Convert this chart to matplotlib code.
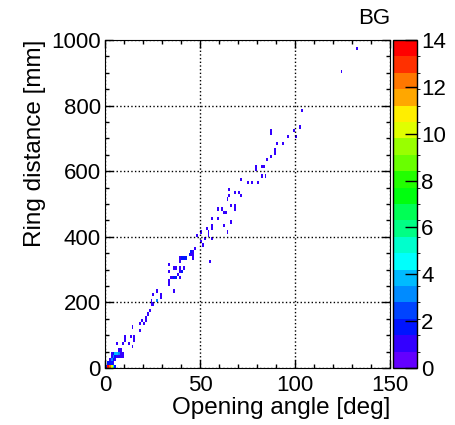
import colorsys
import numpy as np
import matplotlib
matplotlib.use("Agg")
import matplotlib.pyplot as plt
from matplotlib.colors import ListedColormap, BoundaryNorm

plt.rcParams['font.family'] = ['Liberation Sans', 'DejaVu Sans']

# filled bins: opening angle bin [deg], ring distance bin [mm], entries
angle = [132, 124, 103, 102, 99, 100, 96, 87, 87, 93, 90, 89, 89, 87, 85,
         79, 79, 82, 83, 82, 84, 80, 77, 75, 71, 65, 65, 68, 70, 71, 64,
         66, 68, 68, 59, 61, 62, 63, 56, 59, 56, 56, 62, 66, 64,
         54, 53, 50, 48, 54, 56, 52, 50, 51, 47,
         45, 46, 45, 44, 46, 46, 42, 41, 39, 40, 39, 55,
         33, 33, 36, 37, 39, 41, 39, 40, 38, 39, 37, 36, 35, 34, 33, 33,
         36, 27, 29, 29, 27, 25, 24, 24, 25, 23, 22,
         19, 21, 20, 18, 21, 18, 14, 10, 10, 13, 15, 14, 15, 9, 12, 6, 8, 7,
         3, 4, 5, 6, 7, 8, 9,
         3, 4, 5, 6, 7, 8, 9,
         2, 3, 4, 5, 2, 3, 4,
         0, 1, 2, 3, 4, 5, 1, 2]
dist = [970, 900, 780, 730, 720, 700, 700, 710, 720, 680, 680, 650, 660, 640, 630,
        600, 610, 610, 610, 580, 580, 560, 560, 560, 570, 540, 520, 530, 530, 520, 510,
        490, 480, 490, 480, 480, 470, 470, 450, 450, 420, 430, 430, 440, 410,
        410, 420, 410, 400, 400, 390, 390, 380, 370, 360,
        350, 350, 340, 340, 330, 340, 330, 330, 330, 330, 320, 320,
        310, 290, 300, 300, 300, 300, 290, 290, 280, 270, 270, 270, 270, 270, 260, 250,
        230, 230, 220, 210, 200, 220, 190, 200, 190, 170, 160,
        140, 140, 130, 130, 150, 110, 120, 90, 80, 90, 80, 60, 90, 70, 70, 70, 50, 50,
        40, 40, 40, 40, 40, 40, 40,
        30, 30, 30, 30, 30, 30, 30,
        20, 20, 20, 20, 10, 10, 10,
        0, 0, 0, 0, 0, 0, 10, 10]
entries = [1, 1, 1, 1, 1, 1, 1, 1, 1, 1, 1, 1, 1, 1, 1,
           1, 1, 1, 1, 1, 1, 1, 1, 1, 1, 1, 1, 1, 1, 1, 1,
           1, 1, 1, 1, 1, 1, 1, 1, 1, 1, 1, 1, 1, 1,
           1, 1, 1, 1, 1, 1, 1, 1, 1, 1,
           2, 1, 1, 2, 1, 1, 2, 2, 1, 2, 1, 1,
           1, 1, 1, 1, 1, 1, 1, 2, 1, 1, 2, 2, 1, 1, 1, 1,
           1, 1, 1, 1, 3, 1, 1, 1, 1, 1, 1,
           1, 1, 1, 1, 1, 1, 1, 1, 1, 1, 1, 1, 1, 1, 1, 1, 1, 1,
           1, 2, 4, 4, 3, 1, 1,
           1, 3, 2, 1, 1, 1, 1,
           1, 3, 2, 1, 1, 2, 1,
           2, 14, 12, 10, 5, 2, 2, 1]

xedges = np.arange(0, 151, 1)
yedges = np.arange(0, 1001, 10)
H = np.zeros((len(yedges) - 1, len(xedges) - 1))
for a, d, n in zip(angle, dist, entries):
    H[d // 10, a] += n
H = np.ma.masked_equal(H, 0)

# ROOT "pretty" palette, 20 contours
levels = np.linspace(0, 14, 21)
cols = []
for j in range(20):
    k = int((j + 0.99) * 50 / 20)
    if k >= 49:
        cols.append((1, 0, 0))
    else:
        hue = 280 - (k + 1) * 5.6
        cols.append(colorsys.hls_to_rgb(hue / 360, 0.5, 1.0))
cmap = ListedColormap(cols)
norm = BoundaryNorm(levels, cmap.N)

fig = plt.figure(figsize=(4.56, 4.25), dpi=100)
ax = fig.add_axes([105 / 456, 57 / 425, 285 / 456, 328 / 425])
cax = fig.add_axes([393 / 456, 57 / 425, 24 / 456, 328 / 425])

mesh = ax.pcolormesh(xedges, yedges, H, cmap=cmap, norm=norm)
ax.set_xlim(0, 150)
ax.set_ylim(0, 1000)
ax.set_xticks([0, 50, 100, 150])
ax.set_xticks(np.arange(0, 151, 10), minor=True)
ax.set_yticks(np.arange(0, 1001, 200))
ax.set_yticks(np.arange(0, 1001, 50), minor=True)
ax.grid(True, which='major', color='black', linestyle=':', linewidth=1)
ax.tick_params(which='both', direction='in', top=True, right=True, labelsize=16)
ax.tick_params(which='major', length=6, width=1)
ax.tick_params(which='minor', length=3, width=1)
ax.tick_params(axis='x', pad=5)
ax.tick_params(axis='y', pad=3)
ax.set_xlabel('Opening angle [deg]', fontsize=17.5, loc='right', labelpad=1)
ax.set_ylabel('Ring distance [mm]', fontsize=17.5, loc='top', labelpad=4)

cb = fig.colorbar(mesh, cax=cax, ticks=np.arange(0, 15, 2))
cb.outline.set_linewidth(1)
cax.tick_params(direction='in', length=9, width=1, labelsize=16, pad=3)

fig.text(390 / 456, 1 - 18 / 425, 'BG', ha='right', va='center', fontsize=16)

fig.savefig('out.png', dpi=100)
